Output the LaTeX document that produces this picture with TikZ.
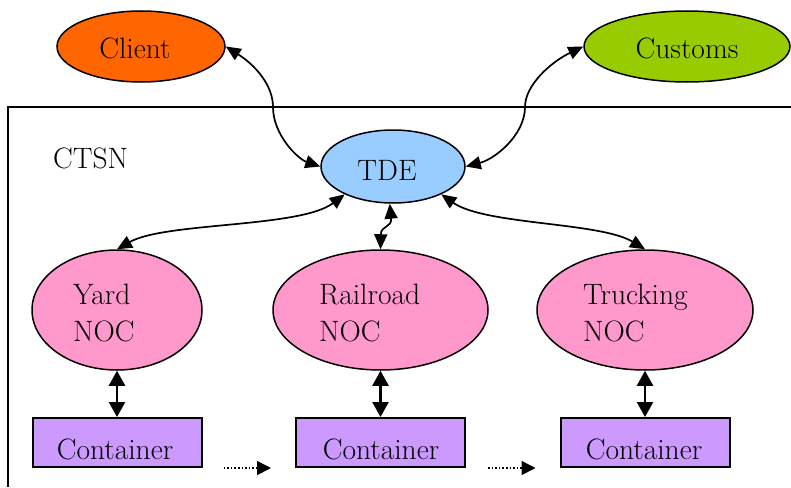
\documentclass[tikz,border=0pt]{standalone}
\usetikzlibrary{arrows.meta,shapes.geometric}
\definecolor{clientc}{HTML}{FF6600}
\definecolor{customsc}{HTML}{99CC00}
\definecolor{tdec}{HTML}{99CCFF}
\definecolor{nocc}{HTML}{FF99CC}
\definecolor{contc}{HTML}{CC99FF}
\begin{document}
\begin{tikzpicture}[x=1pt,y=-1pt,
  ell/.style={ellipse, draw=black, line width=1.5pt, inner sep=0pt},
  lbl/.style={font=\fontsize{29.5}{37}\selectfont, inner sep=0pt},
  boxc/.style={rectangle, draw=black, line width=2pt, fill=contc, minimum width=169pt, minimum height=49pt, inner sep=0pt},
  link/.style={line width=1.7pt, {Triangle[length=15pt,width=13pt]}-{Triangle[length=15pt,width=13pt]}},
  vlink/.style={line width=2.3pt, {Triangle[length=15pt,width=16pt]}-{Triangle[length=15pt,width=16pt]}},
  dotlink/.style={line width=1.6pt, dotted, -{Triangle[length=14pt,width=14pt]}},
]
\useasboundingbox (0,0) rectangle (791,487);
% frame of CTSN
\draw[line width=1.9pt] (8,487) -- (8,107) -- (791,107);
% ellipses
\node[ell, fill=clientc, minimum width=168pt, minimum height=71pt] (client) at (141,46.5) {};
\node[ell, fill=customsc, minimum width=206pt, minimum height=71pt] (customs) at (687,46.5) {};
\node[ell, fill=tdec, minimum width=144pt, minimum height=73pt] (tde) at (393,166.5) {};
\node[ell, fill=nocc, minimum width=170pt, minimum height=120pt] (yard) at (117,310) {};
\node[ell, fill=nocc, minimum width=215pt, minimum height=120pt] (rail) at (380.5,310) {};
\node[ell, fill=nocc, minimum width=216pt, minimum height=120pt] (truck) at (645,310) {};
% containers
\node[boxc] (cy) at (117,442.5) {};
\node[boxc] (cr) at (380.5,442.5) {};
\node[boxc] (ct) at (645,442.5) {};
% texts
\node[lbl, anchor=base] (clientt) at (135,58) {Client};
\node[lbl, anchor=base] (customst) at (687,58) {Customs};
\node[lbl, anchor=base] (tdet) at (387,180) {TDE};
\node[lbl, anchor=base west] (ctsnt) at (53,168) {CTSN};
\node[lbl, anchor=north west, align=left] (yardt) at (73,284) {Yard\\NOC};
\node[lbl, anchor=north west, align=left] (railt) at (319,284) {Railroad\\NOC};
\node[lbl, anchor=north west, align=left] (truckt) at (583,284) {Trucking\\NOC};
\node[lbl, anchor=base] (cyt) at (115,459) {Container};
\node[lbl, anchor=base] (crt) at (381,459) {Container};
\node[lbl, anchor=base] (ctt) at (644,459) {Container};
% connectors
\draw[link] (client.east) .. controls (255,65) and (273,85) .. (273,107)
                          .. controls (273,135) and (298,159) .. (tde.west);
\draw[link] (customs.west) .. controls (551,62) and (525,85) .. (525,107)
                           .. controls (525,135) and (495,159) .. (tde.east);
\draw[link] (tde.210) .. controls (300,228) and (165,222) .. (yard.north);
\draw[link] (tde.-95) .. controls (392,228) and (381,225) .. (rail.north);
\draw[link] (tde.-30) .. controls (485,225) and (600,222) .. (truck.north);
\draw[vlink] (yard.south) -- (cy.north);
\draw[vlink] (rail.south) -- (cr.north);
\draw[vlink] (truck.south) -- (ct.north);
\draw[dotlink] ([xshift=21pt]cy.south east) -- ([xshift=-24pt]cr.south west);
\draw[dotlink] ([xshift=22pt]cr.south east) -- ([xshift=-24pt]ct.south west);
\end{tikzpicture}
\end{document}
